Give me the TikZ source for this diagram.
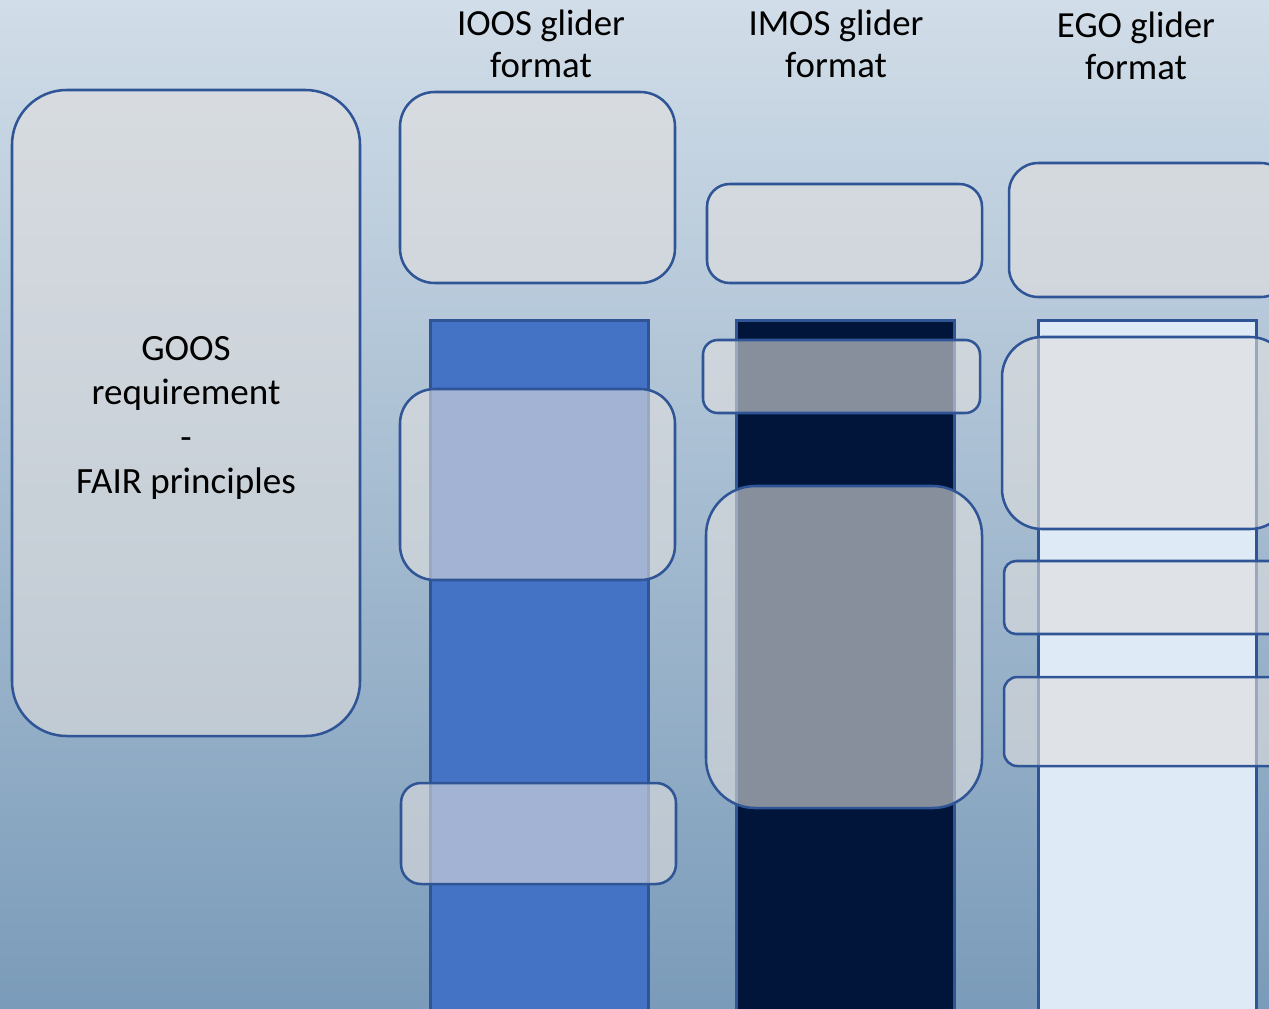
\documentclass[tikz,border=0pt]{standalone}
\usepackage{fontspec}
\setmainfont{Carlito}
\definecolor{bgtop}{RGB}{209,221,232}
\definecolor{bgbot}{RGB}{122,155,185}
\definecolor{edge}{RGB}{47,85,151}
\definecolor{ioos}{RGB}{68,114,196}
\definecolor{imos}{RGB}{0,21,57}
\definecolor{ego}{RGB}{222,234,246}
\definecolor{boxfill}{RGB}{225,223,222}
\tikzset{
  gbox/.style={draw=edge, line width=1.9pt, fill=boxfill, fill opacity=0.6, inner sep=0pt},
  colbar/.style={draw=edge, line width=1.9pt, inner sep=0pt, anchor=north west, minimum width={218*0.75pt}, minimum height={720*0.75pt}},
  hdr/.style={align=center, font=\fontsize{27.6pt}{31.5pt}\selectfont, inner sep=0pt},
}
\newcommand\rbox[6]{\node[gbox, rounded corners=#6, minimum width={(#4-#2)*0.75pt}, minimum height={(#5-#3)*0.75pt}] (#1) at ({(#2+#4)/2},{(#3+#5)/2}) {};}
\begin{document}
\begin{tikzpicture}[x=0.75pt,y=-0.75pt]
\useasboundingbox (0,0) rectangle (1269,1008);
\clip (0,0) rectangle (1269,1008);
\shade[top color=bgtop, bottom color=bgbot] (0,0) rectangle (1269,1008);
% columns
\node[colbar, fill=ioos] (c1) at (429,319) {};
\node[colbar, fill=imos] (c2) at (735,319) {};
\node[colbar, fill=ego] (c3) at (1037,319) {};
% GOOS box
\rbox{goos}{12}{90}{360}{736}{41pt}
\node[hdr, font=\fontsize{27.8pt}{33.4pt}\selectfont] (goostext) at (186,418) {GOOS\\requirement\\-\\FAIR principles};
% header boxes
\rbox{h1}{400}{92}{675}{283}{26pt}
\rbox{h2}{707}{184}{982}{283}{17pt}
\rbox{h3}{1009}{163}{1290}{297}{22pt}
% IOOS boxes
\rbox{a1}{400}{389}{675}{580}{26pt}
\rbox{a2}{401}{783}{676}{884}{15pt}
% IMOS boxes
\rbox{b1}{703}{340}{980}{413}{11pt}
\rbox{b2}{706}{486}{982}{808}{37pt}
% EGO boxes
\rbox{e1}{1002}{337}{1290}{529}{30pt}
\rbox{e2}{1004}{561}{1290}{634}{9pt}
\rbox{e3}{1004}{677}{1290}{766}{10pt}
% headers
\node[hdr] (t1) at (541,44) {IOOS glider\\format};
\node[hdr] (t2) at (836,44) {IMOS glider\\format};
\node[hdr] (t3) at (1136,46) {EGO glider\\format};
\end{tikzpicture}
\end{document}
